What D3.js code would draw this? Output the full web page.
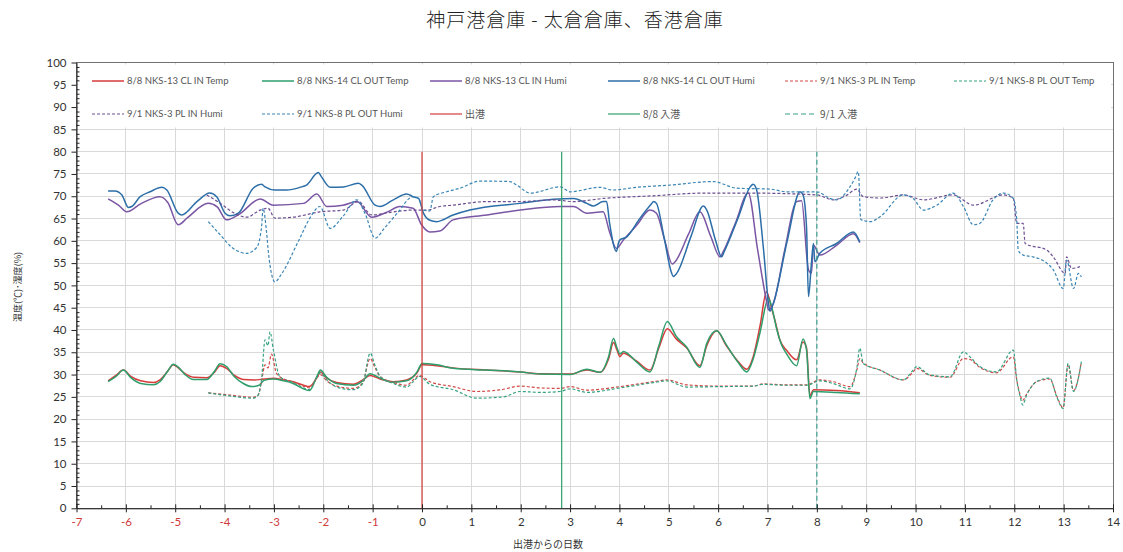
<!DOCTYPE html>
<html>
<head>
<meta charset="utf-8">
<script src="https://cdn.jsdelivr.net/npm/d3@7"></script>
<style>
  html, body { margin: 0; padding: 0; background: #fff; }
  svg { display: block; }
</style>
</head>
<body>
<svg id="chart" width="1123" height="552"></svg>
<script>
// ---- Data: [days since departure, value] ----
const inTemp88 = [[-6.36,28.6],[-6.2,29.8],[-6.05,31.0],[-5.9,29.6],[-5.7,28.6],[-5.44,28.2],[-5.31,28.8],[-5.15,30.8],[-5.04,32.2],[-4.95,31.6],[-4.8,30.2],[-4.63,29.4],[-4.36,29.3],[-4.2,30.6],[-4.09,32.0],[-3.96,31.4],[-3.8,29.8],[-3.62,28.9],[-3.4,28.8],[-3.2,29.0],[-3.01,29.2],[-2.8,28.8],[-2.61,28.4],[-2.4,27.6],[-2.28,27.3],[-2.12,29.5],[-2.06,30.6],[-1.93,29.2],[-1.73,28.2],[-1.39,27.8],[-1.2,28.8],[-1.05,29.8],[-0.85,29.0],[-0.58,28.4],[-0.31,28.8],[-0.1,30.4],[0.0,32.2],[0.3,32.0],[0.63,31.5],[1.31,31.0],[1.99,30.6],[2.39,30.2],[3.0,30.1],[3.34,31.0],[3.61,30.5],[3.78,33.5],[3.88,37.2],[3.95,35.5],[4.01,34.0],[4.08,34.8],[4.35,33.0],[4.62,31.0],[4.8,36.0],[4.97,40.3],[5.15,38.0],[5.36,36.0],[5.63,32.0],[5.77,36.5],[5.97,39.8],[6.17,36.4],[6.4,33.0],[6.58,31.2],[6.71,34.0],[6.85,41.0],[6.98,48.6],[7.08,45.0],[7.15,42.2],[7.25,37.8],[7.39,35.4],[7.59,33.3],[7.72,37.3],[7.79,36.0],[7.86,25.2],[7.93,26.6],[8.4,26.4],[8.87,25.9]];

const outTemp88 = [[-6.36,28.4],[-6.2,29.6],[-6.05,31.0],[-5.9,29.3],[-5.7,28.0],[-5.44,27.7],[-5.31,28.4],[-5.15,30.8],[-5.04,32.3],[-4.95,31.8],[-4.8,30.0],[-4.63,28.9],[-4.36,28.9],[-4.2,30.8],[-4.09,32.4],[-3.96,31.8],[-3.8,29.5],[-3.62,28.0],[-3.45,27.3],[-3.3,27.6],[-3.2,28.7],[-3.01,29.0],[-2.8,28.6],[-2.61,28.0],[-2.4,26.8],[-2.28,26.4],[-2.12,29.8],[-2.06,31.0],[-1.93,29.4],[-1.73,28.0],[-1.39,27.6],[-1.2,28.6],[-1.05,30.2],[-0.85,29.2],[-0.58,28.3],[-0.31,28.6],[-0.1,30.6],[0.0,32.5],[0.3,32.2],[0.63,31.4],[1.31,31.0],[1.99,30.6],[2.39,30.1],[3.0,30.0],[3.34,31.2],[3.61,30.5],[3.78,34.0],[3.88,38.1],[3.95,36.0],[4.01,34.6],[4.08,35.2],[4.35,32.8],[4.62,30.6],[4.8,36.5],[4.97,41.9],[5.15,38.6],[5.36,36.2],[5.63,31.6],[5.77,37.0],[5.97,39.8],[6.17,36.6],[6.4,32.8],[6.58,30.6],[6.71,33.5],[6.85,39.5],[7.02,47.2],[7.1,44.5],[7.18,40.5],[7.28,36.8],[7.39,34.6],[7.59,32.0],[7.72,38.0],[7.79,35.6],[7.86,24.6],[7.93,26.2],[8.4,26.0],[8.87,25.7]];

const inHumi88 = [[-6.36,69.4],[-6.15,68.0],[-5.98,66.5],[-5.7,68.3],[-5.31,69.9],[-5.15,68.6],[-4.94,63.6],[-4.75,65.2],[-4.33,68.4],[-4.15,67.6],[-3.96,64.7],[-3.7,66.0],[-3.28,69.4],[-3.01,68.0],[-2.4,68.4],[-2.13,70.5],[-1.93,67.7],[-1.6,68.0],[-1.32,68.8],[-1.02,65.3],[-0.7,66.5],[-0.45,67.7],[-0.18,67.3],[-0.01,63.6],[0.16,62.0],[0.36,62.2],[0.63,64.7],[1.31,65.8],[1.99,66.9],[2.8,67.7],[3.07,67.7],[3.34,66.2],[3.67,66.5],[3.8,62.0],[3.94,58.3],[4.08,60.2],[4.35,63.5],[4.62,66.9],[4.75,66.2],[4.92,60.0],[5.07,54.8],[5.12,55.2],[5.4,61.5],[5.63,66.5],[5.85,61.0],[6.04,56.4],[6.1,57.5],[6.35,64.0],[6.61,70.7],[6.8,58.0],[6.98,46.5],[7.02,44.5],[7.12,46.0],[7.35,58.0],[7.59,68.8],[7.69,69.0],[7.83,53.5],[7.89,52.7],[7.93,59.0],[8.06,56.8],[8.4,59.0],[8.74,61.6],[8.87,59.6]];

const outHumi88 = [[-6.36,71.2],[-6.22,71.2],[-6.08,70.3],[-5.95,67.5],[-5.88,67.7],[-5.71,69.9],[-5.51,71.0],[-5.27,72.0],[-5.17,71.4],[-4.94,66.2],[-4.87,65.8],[-4.56,68.8],[-4.30,70.7],[-4.16,69.9],[-3.99,66.2],[-3.89,65.6],[-3.72,66.2],[-3.42,71.8],[-3.25,72.7],[-3.18,72.1],[-2.98,71.4],[-2.74,71.4],[-2.47,72.0],[-2.34,72.5],[-2.10,75.3],[-2.04,74.4],[-1.86,72.0],[-1.59,72.1],[-1.29,72.9],[-1.22,72.5],[-0.95,68.0],[-0.85,67.7],[-0.58,69.2],[-0.31,70.5],[-0.18,69.9],[-0.07,69.5],[0.03,66.2],[0.16,64.6],[0.3,64.3],[0.63,65.8],[0.97,66.9],[1.99,68.4],[2.66,69.3],[3.07,69.5],[3.34,68.4],[3.47,67.8],[3.67,68.8],[3.74,68.8],[3.80,64.0],[3.94,57.6],[3.98,59.5],[4.01,60.2],[4.15,60.9],[4.4,64.8],[4.65,68.3],[4.69,68.8],[4.75,68.4],[4.9,61.0],[5.05,53.0],[5.09,52.0],[5.16,52.7],[5.45,61.0],[5.70,67.8],[5.77,66.9],[5.95,60.0],[6.07,56.4],[6.12,57.5],[6.4,65.0],[6.65,72.1],[6.71,72.7],[6.78,71.4],[6.92,58.0],[7.02,46.0],[7.05,44.2],[7.12,46.0],[7.4,60.0],[7.66,71.0],[7.72,70.3],[7.79,63.2],[7.83,47.5],[7.89,55.0],[7.93,59.4],[7.96,55.3],[8.06,57.2],[8.40,59.4],[8.74,62.0],[8.87,59.8]];

const inTemp91 = [[-4.33,25.9],[-3.89,25.4],[-3.42,24.9],[-3.32,25.4],[-3.25,28.6],[-3.18,32.2],[-3.12,31.5],[-3.05,34.6],[-2.95,30.3],[-2.8,29.0],[-2.61,28.4],[-2.4,27.4],[-2.28,27.0],[-2.12,29.4],[-2.06,30.0],[-1.93,28.6],[-1.73,27.4],[-1.39,26.9],[-1.2,28.2],[-1.05,33.6],[-0.95,31.5],[-0.85,29.6],[-0.58,28.2],[-0.31,27.6],[-0.18,28.8],[-0.05,29.8],[0.16,28.4],[0.63,27.3],[1.11,26.2],[1.6,26.6],[1.99,27.4],[2.4,27.0],[2.8,26.9],[3.0,27.3],[3.34,26.5],[4.01,27.3],[4.69,28.4],[4.96,28.8],[5.36,27.7],[6.04,27.4],[6.71,27.4],[6.91,27.9],[7.39,27.7],[7.79,27.7],[8.06,28.8],[8.33,28.4],[8.67,27.3],[8.81,31.0],[8.87,33.6],[8.94,32.6],[9.28,31.0],[9.75,28.8],[9.95,30.6],[10.02,31.4],[10.29,29.8],[10.7,29.4],[10.97,33.6],[11.1,33.4],[11.3,31.6],[11.64,30.4],[11.98,34.0],[12.05,28.8],[12.12,25.4],[12.17,24.2],[12.25,25.6],[12.45,28.4],[12.72,29.0],[12.86,25.2],[12.99,22.6],[13.09,32.3],[13.2,26.4],[13.36,32.8]];

const outTemp91 = [[-4.33,25.9],[-3.89,25.2],[-3.42,24.7],[-3.32,25.4],[-3.25,29.0],[-3.18,37.8],[-3.12,36.5],[-3.08,39.6],[-3.01,35.5],[-2.88,29.5],[-2.61,28.2],[-2.4,27.0],[-2.28,26.6],[-2.12,29.6],[-2.06,30.4],[-1.93,28.8],[-1.73,27.2],[-1.39,26.6],[-1.2,28.0],[-1.05,34.8],[-0.95,32.0],[-0.85,29.6],[-0.58,28.0],[-0.31,27.2],[-0.18,28.4],[-0.05,29.6],[0.16,27.8],[0.63,26.6],[1.11,24.7],[1.65,25.0],[1.99,26.2],[2.4,26.0],[2.8,26.2],[3.0,26.8],[3.34,26.0],[4.01,27.0],[4.69,28.2],[4.96,28.6],[5.36,27.2],[6.04,27.3],[6.71,27.4],[6.91,27.8],[7.39,27.6],[7.79,27.6],[8.06,28.6],[8.33,28.0],[8.67,26.8],[8.81,31.5],[8.87,35.9],[8.94,32.5],[9.28,31.0],[9.75,28.8],[9.95,31.0],[10.02,31.8],[10.29,29.9],[10.7,29.5],[10.97,35.1],[11.1,34.0],[11.3,31.8],[11.64,30.6],[11.98,35.5],[12.05,28.8],[12.12,25.0],[12.17,23.2],[12.25,25.4],[12.45,28.4],[12.72,29.2],[12.86,25.0],[12.99,22.4],[13.09,32.5],[13.2,26.2],[13.36,32.9]];

const inHumi91 = [[-4.36,70.3],[-4.1,68.5],[-3.8,66.2],[-3.55,65.3],[-3.28,66.9],[-3.12,67.3],[-2.98,65.1],[-2.61,65.3],[-2.07,66.5],[-1.59,66.9],[-1.29,68.8],[-1.02,65.8],[-0.58,66.5],[-0.18,66.9],[0.1,66.9],[0.36,67.7],[0.63,68.0],[1.31,68.8],[1.99,68.8],[2.66,69.2],[3.07,68.8],[3.67,69.5],[4.69,70.1],[5.70,70.7],[6.71,70.7],[8.0,70.3],[8.33,69.2],[8.6,70.2],[8.81,71.6],[8.94,69.9],[9.3,69.6],[9.75,70.3],[10.16,69.2],[10.76,70.3],[11.17,68.0],[11.78,70.3],[11.98,69.5],[12.05,63.9],[12.18,63.9],[12.22,59.4],[12.66,57.9],[12.79,56.4],[13.03,52.7],[13.06,56.4],[13.16,53.8],[13.33,54.2]];

const outHumi91 = [[-4.33,64.3],[-4.1,61.5],[-3.85,58.5],[-3.55,57.2],[-3.35,58.5],[-3.25,63.2],[-3.22,67.3],[-3.15,62.0],[-3.11,57.2],[-2.98,50.8],[-2.85,52.5],[-2.5,60.0],[-2.25,65.5],[-2.07,67.7],[-1.86,62.8],[-1.6,65.5],[-1.32,69.2],[-1.15,66.0],[-0.95,60.6],[-0.75,63.0],[-0.5,66.2],[-0.18,69.9],[-0.07,69.5],[0.03,66.9],[0.16,66.7],[0.23,69.9],[0.50,71.0],[0.77,71.8],[1.18,73.4],[1.78,73.3],[1.92,72.5],[2.19,70.7],[2.8,72.1],[3.0,71.0],[3.6,72.0],[3.87,71.4],[4.35,72.0],[5.02,72.5],[5.9,73.3],[6.38,71.8],[7.05,71.6],[7.39,71.0],[8.0,71.0],[8.27,69.5],[8.4,69.2],[8.67,72.1],[8.77,74.0],[8.84,75.5],[8.89,64.8],[9.08,64.3],[9.28,65.4],[9.75,70.3],[9.95,69.5],[10.16,66.9],[10.43,68.0],[10.76,70.7],[10.97,67.7],[11.17,63.6],[11.30,63.9],[11.57,69.2],[11.78,70.7],[11.98,69.5],[12.05,64.7],[12.08,57.9],[12.18,56.8],[12.38,56.4],[12.66,55.0],[12.79,53.5],[12.99,49.3],[13.06,55.7],[13.2,49.3],[13.3,52.7],[13.36,51.9]];

// Event markers (day) drawn as vertical lines up to eventTop
const eventDays = [0, 2.83, 8.0];
const eventTop = 80;

const xTicks = d3.range(-7, 15, 1);
const yTicks = d3.range(0, 101, 5);

const seriesNames = [
  "8/8 NKS-13 CL IN Temp", "8/8 NKS-14 CL OUT Temp", "8/8 NKS-13 CL IN Humi", "8/8 NKS-14 CL OUT Humi",
  "9/1 NKS-3 PL IN Temp", "9/1 NKS-8 PL OUT Temp", "9/1 NKS-3 PL IN Humi", "9/1 NKS-8 PL OUT Humi",
  "出港", "8/8 入港", "9/1 入港"
];

// ---- Styles ----
const RED = "#d63c3a", GREEN = "#2e9e6c", PURPLE = "#7a56a4", BLUE = "#2c6ea8";
const DRED = "#d04a46", DGREEN = "#35a383", DPURPLE = "#6c4f92", DBLUE = "#3a86b6", TEAL = "#3a9e8c";

const series = [
  { data: inTemp88,  color: RED,     dash: null, w: 1.5 },
  { data: outTemp88, color: GREEN,   dash: null, w: 1.5 },
  { data: inHumi88,  color: PURPLE,  dash: null, w: 1.5 },
  { data: outHumi88, color: BLUE,    dash: null, w: 1.5 },
  { data: inTemp91,  color: DRED,    dash: "3,2", w: 1.2 },
  { data: outTemp91, color: DGREEN,  dash: "3,2", w: 1.2 },
  { data: inHumi91,  color: DPURPLE, dash: "3,2", w: 1.2 },
  { data: outHumi91, color: DBLUE,   dash: "3,2", w: 1.2 }
];
const events = [
  { day: eventDays[0], color: RED,   dash: null },
  { day: eventDays[1], color: GREEN, dash: null },
  { day: eventDays[2], color: TEAL,  dash: "5,3" }
];

// ---- Layout ----
const svg = d3.select("#chart");
const L = 76.5, R = 1113, T = 62.5, B = 508.3;
const x = d3.scaleLinear().domain([-7, 14]).range([L, R]);
const y = d3.scaleLinear().domain([0, 100]).range([B, T]);
const latin = "Lato, 'Liberation Sans', sans-serif";
const cjk = "'Noto Sans CJK JP', sans-serif";

// Title
svg.append("text")
  .attr("x", 575).attr("y", 27)
  .attr("text-anchor", "middle")
  .attr("font-family", cjk).attr("font-size", 19).attr("font-weight", 300)
  .attr("letter-spacing", 1)
  .attr("fill", "#222")
  .text("神戸港倉庫 - 太倉倉庫、香港倉庫");

// Gridlines
const grid = svg.append("g").attr("shape-rendering", "crispEdges");
grid.selectAll("line.v").data(xTicks.slice(1, -1)).join("line")
  .attr("x1", d => x(d)).attr("x2", d => x(d)).attr("y1", T).attr("y2", B)
  .attr("stroke", "#d9d9d9");
grid.selectAll("line.h").data(yTicks.slice(1, -1)).join("line")
  .attr("x1", L).attr("x2", R).attr("y1", d => y(d)).attr("y2", d => y(d))
  .attr("stroke", "#d9d9d9");

// Plot frame
svg.append("rect").attr("x", L).attr("y", T).attr("width", R - L).attr("height", B - T)
  .attr("fill", "none").attr("stroke", "#707070").attr("shape-rendering", "crispEdges");

// Legend background
svg.append("rect").attr("x", L + 2).attr("y", T + 2).attr("width", R - L - 4).attr("height", 63)
  .attr("fill", "#fff");

// Series lines
const line = d3.line().x(d => x(d[0])).y(d => y(d[1])).curve(d3.curveMonotoneX);
const plot = svg.append("g");
series.forEach(s => {
  plot.append("path").datum(s.data)
    .attr("d", line)
    .attr("fill", "none")
    .attr("stroke", s.color)
    .attr("stroke-width", s.w)
    .attr("stroke-dasharray", s.dash)
    .attr("stroke-linejoin", "round");
});

// Event lines
events.forEach(e => {
  plot.append("line")
    .attr("x1", x(e.day)).attr("x2", x(e.day))
    .attr("y1", y(eventTop)).attr("y2", y(0))
    .attr("stroke", e.color).attr("stroke-width", 1.2)
    .attr("stroke-dasharray", e.dash);
});

// Y axis: major ticks outside, minor ticks inside
const yAxis = svg.append("g").attr("transform", `translate(${L},0)`)
  .call(d3.axisLeft(y).tickValues(yTicks).tickSize(5).tickSizeOuter(0).tickPadding(5));
yAxis.select(".domain").attr("stroke", "#222");
yAxis.selectAll(".tick line").attr("stroke", "#222");
yAxis.selectAll("text").attr("font-family", latin).attr("font-size", 11.5).attr("fill", "#333");
svg.append("g").attr("transform", `translate(${L},0)`)
  .call(d3.axisRight(y).tickValues(d3.range(0, 101).filter(v => v % 5 !== 0)).tickSize(3).tickFormat(""))
  .call(g => g.select(".domain").remove())
  .selectAll("line").attr("stroke", "#222");

// X axis: major ticks crossing, minor ticks at half days
const xAxis = svg.append("g").attr("transform", `translate(0,${B})`)
  .call(d3.axisBottom(x).tickValues(xTicks).tickSize(4).tickSizeOuter(0).tickPadding(6)
    .tickFormat(d => String(d)));
xAxis.select(".domain").attr("stroke", "#222");
xAxis.selectAll(".tick line").attr("stroke", "#222");
xAxis.selectAll("text").attr("font-family", latin).attr("font-size", 11.5)
  .attr("fill", d => d < 0 ? "#cf3b3b" : "#333");
svg.append("g").attr("transform", `translate(0,${B})`)
  .call(d3.axisTop(x).tickValues(xTicks).tickSize(4).tickFormat(""))
  .call(g => g.select(".domain").remove())
  .selectAll("line").attr("stroke", "#222");
svg.append("g").attr("transform", `translate(0,${B})`)
  .call(d3.axisTop(x).tickValues(d3.range(-6.5, 14, 1)).tickSize(3).tickFormat(""))
  .call(g => g.select(".domain").remove())
  .selectAll("line").attr("stroke", "#222");

// Axis titles
svg.append("text")
  .attr("transform", "translate(21,287) rotate(-90)")
  .attr("text-anchor", "middle")
  .attr("font-family", cjk).attr("font-size", 9).attr("fill", "#333")
  .text("温度(℃)･湿度(%)");
svg.append("text")
  .attr("x", 548).attr("y", 548)
  .attr("text-anchor", "middle")
  .attr("font-family", cjk).attr("font-size", 10).attr("fill", "#333")
  .text("出港からの日数");

// Legend
const legendStyles = series.map(s => ({ color: s.color, dash: s.dash, w: s.w }))
  .concat(events.map(e => ({ color: e.color, dash: e.dash, w: 1.2 })));
const colX = [92, 262, 430, 608, 785, 954];
const rowY = [81, 114];
const legend = svg.append("g");
seriesNames.forEach((name, i) => {
  const cx = colX[i % 6], cy = rowY[Math.floor(i / 6)];
  const st = legendStyles[i];
  const wide = /[^\x00-\x7f]/.test(name);
  legend.append("line")
    .attr("x1", cx).attr("x2", cx + 32).attr("y1", cy).attr("y2", cy)
    .attr("stroke", st.color).attr("stroke-width", st.w).attr("stroke-dasharray", st.dash);
  legend.append("text")
    .attr("x", cx + 35).attr("y", cy).attr("dy", "0.35em")
    .attr("font-family", wide ? cjk : latin)
    .attr("font-size", wide ? 10 : 9.5)
    .attr("fill", "#555")
    .text(name);
});
</script>
</body>
</html>
